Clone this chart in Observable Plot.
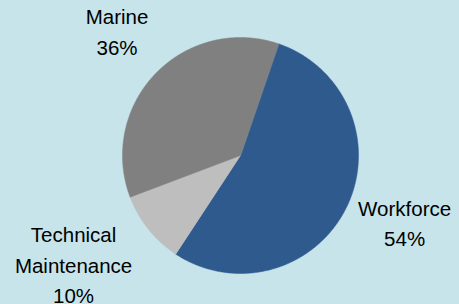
<!DOCTYPE html>
<html>
<head>
<meta charset="utf-8">
<script src="https://cdn.jsdelivr.net/npm/d3@7"></script>
<script src="https://cdn.jsdelivr.net/npm/@observablehq/plot@0.6"></script>
<style>
  html, body { margin: 0; padding: 0; background: #c6e4ea; }
  #chart { width: 459px; height: 304px; overflow: hidden; }
</style>
</head>
<body>
<div id="chart"></div>
<script>
// ---- data ----
const categories = ["Workforce", "Technical\nMaintenance", "Marine"];
const shares = [54, 10, 36];
const colors = ["#2f5a8e", "#bebebe", "#808080"];
const startDeg = 18.9;

// ---- layout ----
const W = 459, H = 304;
const R = 118, cx = 240, cy = 155;
const fontSize = 20.5, lineH = 1.5;

const pie = d3.pie().sort(null).value(d => d.value)
  .startAngle(startDeg * Math.PI / 180)
  .endAngle(startDeg * Math.PI / 180 + 2 * Math.PI);
const data = categories.map((c, i) => ({cat: c, value: shares[i], color: colors[i]}));
const arcs = pie(data);

// slice polygons in data units (radius 1)
const poly = [];
arcs.forEach((a, i) => {
  poly.push({cat: a.data.cat, x: 0, y: 0});
  const n = Math.max(2, Math.ceil((a.endAngle - a.startAngle) / (Math.PI / 360)));
  for (let k = 0; k <= n; k++) {
    const t = a.startAngle + (a.endAngle - a.startAngle) * k / n;
    poly.push({cat: a.data.cat, x: Math.sin(t), y: Math.cos(t)});
  }
});

// label positions (outside end, box adjacent to the pie)
const ctx = document.createElement("canvas").getContext("2d");
ctx.font = `${fontSize}px "Liberation Sans", Arial, sans-serif`;
const labels = arcs.map(a => {
  const text = `${a.data.cat}\n${a.data.value}%`;
  const lines = text.split("\n");
  const halfW = d3.max(lines, l => ctx.measureText(l).width) / 2;
  const halfH = (lines.length - 1) * fontSize * lineH / 2;
  const m = (a.startAngle + a.endAngle) / 2;
  const s = Math.sin(m), c = Math.cos(m);
  const dxp = R * 0.965 * s + Math.sign(s) * halfW * 1.33;
  const dyp = R * 1.2 * c + Math.sign(c) * halfH + 12;
  return {text, x: dxp / R, y: dyp / R};
});

const chart = Plot.plot({
  width: W,
  height: H,
  margin: 0,
  style: {background: "#c6e4ea", fontFamily: '"Liberation Sans", Arial, sans-serif'},
  x: {type: "linear", domain: [-cx / R, (W - cx) / R], range: [0, W], axis: null},
  y: {type: "linear", domain: [-(H - cy) / R, cy / R], range: [H, 0], axis: null},
  color: {domain: categories, range: colors},
  marks: [
    Plot.line(poly, {x: "x", y: "y", z: "cat", fill: "cat", stroke: "cat", strokeWidth: 0.5, curve: "linear-closed"}),
    Plot.text(labels, {x: "x", y: "y", text: "text", fontSize: fontSize, lineHeight: lineH,
      textAnchor: "middle", lineAnchor: "middle", fill: "#000"})
  ]
});
document.getElementById("chart").appendChild(chart);
</script>
</body>
</html>
